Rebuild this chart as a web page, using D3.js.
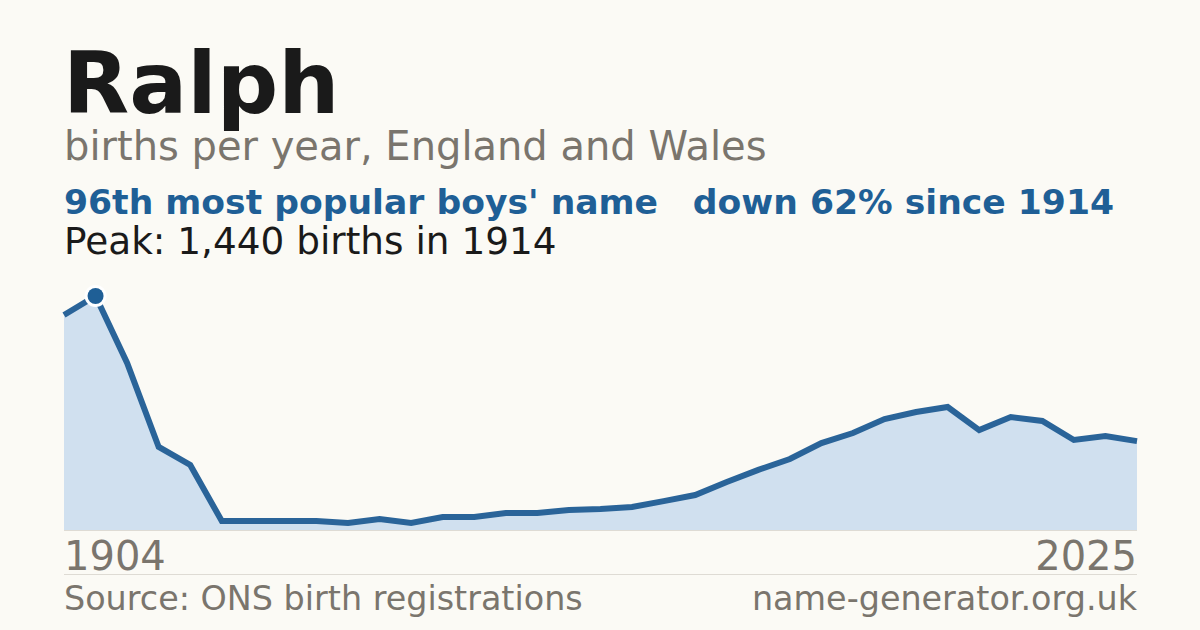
<!DOCTYPE html>
<html><head><meta charset="utf-8">
<script src="https://cdn.jsdelivr.net/npm/d3@7/dist/d3.min.js"></script>
<style>html,body{margin:0;padding:0;background:#fbfaf5;}svg{display:block;font-family:"DejaVu Sans",sans-serif;}</style>
</head><body><svg id="c" width="1200" height="630"></svg>
<script>
const years = [1904,1914,1924,1934,1944,1996,1997,1998,1999,2000,2001,2002,2003,2004,2005,2006,2007,2008,2009,2010,2011,2012,2013,2014,2015,2016,2017,2018,2019,2020,2021,2022,2023,2024,2025];
const births = [1323,1440,1028,511,400,55,55,55,55,43,68,43,80,80,105,105,123,129,142,178,215,295,370,437,535,597,683,726,757,615,695,671,554,578,547];
const xLabels = ["1904","2025"];

const svg = d3.select("#c");
svg.append("rect").attr("width",1200).attr("height",630).attr("fill","#fbfaf5");

const x = d3.scalePoint().domain(years).range([64,1137]);
const y = d3.scaleLinear().domain([0,1440]).range([530,296]);
const data = years.map((yr,i)=>({yr, v:births[i]}));

svg.append("path").datum(data)
  .attr("d", d3.area().x(d=>x(d.yr)).y0(y(0)).y1(d=>y(d.v)))
  .attr("fill","#d0e0ef");
svg.append("line").attr("x1",64).attr("x2",1137).attr("y1",530.5).attr("y2",530.5)
  .attr("stroke","#dedbd4").attr("stroke-width",1);
svg.append("path").datum(data)
  .attr("d", d3.line().x(d=>x(d.yr)).y(d=>y(d.v)))
  .attr("fill","none").attr("stroke","#2a6499").attr("stroke-width",6)
  .attr("stroke-linejoin","miter");
const peak = data[d3.maxIndex(data,d=>d.v)];
svg.append("circle").attr("cx",x(peak.yr)).attr("cy",y(peak.v)).attr("r",11)
  .attr("fill","#ffffff");
svg.append("circle").attr("cx",x(peak.yr)).attr("cy",y(peak.v)).attr("r",8)
  .attr("fill","#1f5f96");

svg.append("text").attr("x",63).attr("y",113).attr("font-size",86).attr("font-weight","bold")
  .attr("fill","#1a1a1a").text("Ralph");
svg.append("text").attr("x",64).attr("y",160).attr("font-size",40)
  .attr("fill","#7a756d").text("births per year, England and Wales");
svg.append("text").attr("x",64).attr("y",214).attr("font-size",34.6).attr("font-weight","bold")
  .attr("fill","#1f5f96").text("96th most popular boys' name");
svg.append("text").attr("x",1114).attr("y",214).attr("font-size",34.6).attr("font-weight","bold")
  .attr("text-anchor","end").attr("fill","#1f5f96").text("down 62% since 1914");
svg.append("text").attr("x",64).attr("y",254).attr("font-size",37.4)
  .attr("fill","#1a1a1a").text("Peak: 1,440 births in 1914");

svg.append("text").attr("x",64).attr("y",570).attr("font-size",40)
  .attr("fill","#7a756d").text(xLabels[0]);
svg.append("text").attr("x",1137).attr("y",570).attr("font-size",40).attr("text-anchor","end")
  .attr("fill","#7a756d").text(xLabels[1]);
svg.append("line").attr("x1",64).attr("x2",1137).attr("y1",574.5).attr("y2",574.5)
  .attr("stroke","#dedbd4").attr("stroke-width",1);
svg.append("text").attr("x",64).attr("y",610).attr("font-size",33.4)
  .attr("fill","#7a756d").text("Source: ONS birth registrations");
svg.append("text").attr("x",1137).attr("y",610).attr("font-size",33.4).attr("text-anchor","end")
  .attr("fill","#7a756d").text("name-generator.org.uk");
</script></body></html>
